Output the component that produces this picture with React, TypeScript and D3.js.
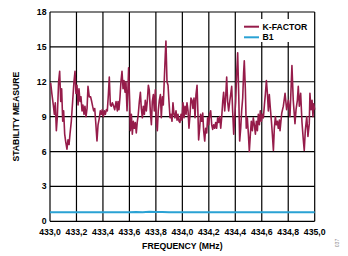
import React from "react";
import * as d3 from "d3";

const kFreq = [
  433.005, 433.015, 433.025, 433.033, 433.04, 433.048, 433.055, 433.065, 433.073, 433.081, 433.088, 433.096, 433.103, 433.111, 433.118, 433.128, 433.136, 433.144, 433.151, 433.161, 433.171, 433.181, 433.189, 433.196, 433.204, 433.212, 433.219, 433.227, 433.234, 433.242, 433.249, 433.257, 433.264, 433.272, 433.28, 433.287, 433.297, 433.307, 433.315, 433.322, 433.33, 433.338, 433.345, 433.355, 433.363, 433.373, 433.38, 433.388, 433.395, 433.403, 433.411, 433.418, 433.426, 433.433, 433.441, 433.448, 433.456, 433.463, 433.471, 433.478, 433.489, 433.499, 433.509,
  433.514, 433.521, 433.529, 433.536, 433.544, 433.552, 433.559, 433.567, 433.574, 433.582, 433.589, 433.594, 433.602, 433.607, 433.615, 433.622, 433.63, 433.637, 433.645, 433.652, 433.66, 433.667, 433.675, 433.683, 433.69, 433.698, 433.705, 433.713, 433.72, 433.728, 433.735, 433.743, 433.75, 433.758, 433.766, 433.773, 433.781, 433.788, 433.796, 433.803, 433.811, 433.818, 433.826, 433.834, 433.841, 433.849, 433.856, 433.864, 433.871, 433.876, 433.884, 433.892, 433.899, 433.907, 433.914, 433.922, 433.929, 433.937, 433.944, 433.952, 433.96, 433.967, 433.975, 433.982, 433.99, 433.997,
  434.005, 434.012, 434.02, 434.028, 434.035, 434.043, 434.05, 434.058, 434.065, 434.073, 434.08, 434.088, 434.096, 434.103, 434.111, 434.118, 434.123, 434.131, 434.138, 434.146, 434.154, 434.161, 434.169, 434.176, 434.184, 434.191, 434.199, 434.206, 434.214, 434.222, 434.229, 434.237, 434.244, 434.252, 434.259, 434.267, 434.274, 434.282, 434.29, 434.297, 434.305, 434.312, 434.32, 434.327, 434.335, 434.342, 434.35, 434.358, 434.365, 434.373, 434.38, 434.388, 434.395, 434.403, 434.41, 434.418, 434.426, 434.433, 434.441, 434.448, 434.456, 434.463, 434.468, 434.476, 434.483, 434.491, 434.499, 434.506,
  434.514, 434.521, 434.529, 434.536, 434.544, 434.552, 434.559, 434.567, 434.574, 434.582, 434.589, 434.597, 434.605, 434.612, 434.62, 434.627, 434.635, 434.642, 434.65, 434.657, 434.665, 434.673, 434.68, 434.688, 434.695, 434.703, 434.71, 434.718, 434.725, 434.733,
  434.738, 434.751, 434.763, 434.776, 434.788, 434.801, 434.813, 434.823, 434.828, 434.838, 434.851, 434.859, 434.869, 434.876, 434.884, 434.894, 434.904, 434.914, 434.921, 434.929, 434.94, 434.949, 434.959, 434.964, 434.972, 434.98, 434.987, 434.992, 435.0,
];

const kValue = [
  11.9, 10.9, 10.0, 9.2, 10.2, 7.8, 8.9, 12.0, 12.9, 10.3, 11.4, 8.6, 9.5, 7.5, 6.9, 6.2, 7.0, 6.6, 7.5, 8.6, 10.3, 12.0, 12.9, 11.0, 11.7, 10.0, 11.4, 10.3, 10.7, 9.5, 10.0, 9.2, 9.9, 9.0, 9.7, 11.6, 10.7, 10.7, 10.3, 9.9, 9.5, 9.7, 8.6, 6.9, 8.3, 8.9, 9.5, 9.2, 9.6, 9.0, 9.5, 9.2, 9.6, 9.5, 10.9, 12.4, 10.0, 9.9, 10.2, 10.0, 9.6, 10.3, 9.5,
  10.3, 9.6, 10.7, 12.0, 12.9, 11.4, 12.1, 11.1, 12.0, 9.5, 11.4, 13.2, 10.3, 7.8, 9.2, 7.5, 8.6, 8.0, 8.5, 7.6, 8.6, 9.2, 10.3, 11.1, 9.7, 8.9, 9.9, 9.2, 10.4, 9.5, 10.3, 11.7, 11.3, 9.5, 8.3, 10.3, 10.9, 9.5, 11.3, 8.6, 7.8, 9.5, 10.4, 10.9, 8.9, 10.7, 10.0, 12.3, 14.3, 15.5, 12.0, 11.7, 10.3, 8.9, 9.2, 8.6, 10.2, 9.2, 8.9, 9.5, 8.7, 9.2, 8.6, 8.5, 9.2, 8.7,
  10.2, 8.9, 9.9, 9.2, 10.2, 9.5, 8.0, 9.2, 10.6, 10.4, 9.7, 10.6, 8.9, 10.9, 11.7, 9.2, 7.0, 8.0, 9.2, 8.6, 9.3, 7.8, 6.9, 8.0, 7.6, 8.9, 8.3, 9.2, 9.5, 8.3, 7.9, 8.3, 8.0, 8.5, 8.0, 8.9, 8.5, 9.0, 8.0, 8.9, 10.3, 11.1, 9.5, 10.6, 12.4, 10.3, 9.5, 10.3, 10.9, 11.6, 9.5, 7.5, 8.9, 10.3, 12.6, 14.5, 10.9, 6.9, 8.0, 9.5, 10.6, 12.8, 13.8, 11.4, 8.0, 8.9, 7.5, 6.0,
  7.5, 8.6, 7.8, 8.9, 8.3, 7.5, 8.6, 7.8, 9.2, 8.3, 9.5, 8.6, 9.2, 8.9, 10.0, 10.9, 12.1, 11.1, 9.5, 10.9, 9.7, 8.6, 7.5, 6.1, 8.0, 9.0, 8.3, 8.6, 8.0, 8.7,
  7.8, 9.3, 9.9, 11.0, 9.6, 10.4, 9.0, 11.9, 13.4, 10.4, 8.4, 9.6, 10.4, 11.6, 9.9, 11.0, 8.5, 7.0, 6.1, 7.8, 9.0, 7.3, 8.4, 11.0, 9.6, 10.4, 9.0, 10.1, 9.6,
];

const b1Freq = [433.0, 433.6, 433.65, 433.7, 433.75, 433.8, 433.85, 433.9, 435.0];
const b1Value = [0.78, 0.78, 0.81, 0.78, 0.82, 0.79, 0.81, 0.78, 0.78];

const xTicks = [433.0, 433.2, 433.4, 433.6, 433.8, 434.0, 434.2, 434.4, 434.6, 434.8, 435.0];
const yTicks = [0, 3, 6, 9, 12, 15, 18];

const seriesNames = ["K-FACTOR", "B1"];
const xTitle = "FREQUENCY (MHz)";
const yTitle = "STABILITY MEASURE";

const K_COLOR = "#961c4a";
const B1_COLOR = "#2aa2d4";
const FONT = "'Liberation Sans', Arial, sans-serif";

export default function App() {
  const W = 348, H = 256;
  const left = 50, right = 314.7, top = 12, bottom = 221.3;
  const x = d3.scaleLinear().domain([433, 435]).range([left, right]);
  const y = d3.scaleLinear().domain([0, 18]).range([bottom, top]);

  const kData = kFreq.map((f, i) => [f, kValue[i]] as [number, number]);
  const bData = b1Freq.map((f, i) => [f, b1Value[i]] as [number, number]);
  const line = d3
    .line<[number, number]>()
    .x((d) => x(d[0]))
    .y((d) => y(d[1]));

  const fmt = (v: number) => v.toFixed(1).replace(".", ",");

  return (
    <svg
      width={W}
      height={H}
      style={{ position: "absolute", left: 0, top: 0, background: "#fff" }}
      fontFamily={FONT}
    >
      <rect x={0} y={0} width={W} height={H} fill="#fff" />
      {/* grid */}
      {xTicks.map((t) => (
        <line key={"gx" + t} x1={x(t)} x2={x(t)} y1={top} y2={bottom} stroke="#000" strokeWidth={1.2} />
      ))}
      {yTicks.map((t) => (
        <line key={"gy" + t} x1={left} x2={right} y1={y(t)} y2={y(t)} stroke="#000" strokeWidth={1.2} />
      ))}
      {/* legend box */}
      <rect x={241} y={19} width={72.5} height={23} fill="#fff" />
      {/* series */}
      <path d={line(bData) || ""} fill="none" stroke={B1_COLOR} strokeWidth={2} />
      <path d={line(kData) || ""} fill="none" stroke={K_COLOR} strokeWidth={1.6} strokeLinejoin="round" />
      {/* legend */}
      <line x1={244} x2={259} y1={26.7} y2={26.7} stroke={K_COLOR} strokeWidth={2} />
      <line x1={244} x2={259} y1={37.3} y2={37.3} stroke={B1_COLOR} strokeWidth={2} />
      <text x={262.5} y={26.7} dy="0.35em" fontSize={8.7} fontWeight="bold" fill="#000">
        {seriesNames[0]}
      </text>
      <text x={262.5} y={37.3} dy="0.35em" fontSize={8.7} fontWeight="bold" fill="#000">
        {seriesNames[1]}
      </text>
      {/* tick labels */}
      {yTicks.map((t) => (
        <text key={"ly" + t} x={46.5} y={y(t)} dy="0.35em" textAnchor="end" fontSize={8.7} fontWeight="bold" fill="#000">
          {t}
        </text>
      ))}
      {xTicks.map((t) => (
        <text key={"lx" + t} x={x(t)} y={235} textAnchor="middle" fontSize={8.7} fontWeight="bold" fill="#000">
          {fmt(t)}
        </text>
      ))}
      {/* titles */}
      <text x={(left + right) / 2} y={248.5} textAnchor="middle" fontSize={8.7} fontWeight="bold" fill="#000">
        {xTitle}
      </text>
      <text
        transform={`translate(19,${(top + bottom) / 2}) rotate(-90)`}
        textAnchor="middle"
        fontSize={8.7}
        fontWeight="bold"
        fill="#000"
      >
        {yTitle}
      </text>
      <text transform="translate(339,243) rotate(-90)" textAnchor="middle" fontSize={5} fill="#888">
        037
      </text>
    </svg>
  );
}
